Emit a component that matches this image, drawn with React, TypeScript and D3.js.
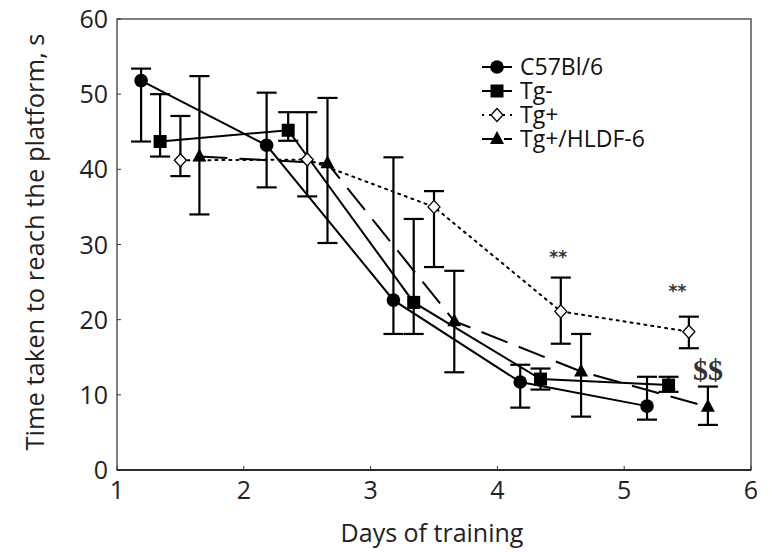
import React from "react";
import * as d3 from "d3";

const seriesNames = ["C57Bl/6", "Tg-", "Tg+", "Tg+/HLDF-6"];
const c57Days = [1.19, 2.18, 3.18, 4.18, 5.18];
const c57Mean = [51.8, 43.2, 22.6, 11.7, 8.5];
const c57Upper = [53.4, 50.2, 41.6, 14.0, 12.4];
const c57Lower = [43.7, 37.6, 18.1, 8.3, 6.7];

const tgMinusDays = [1.34, 2.35, 3.34, 4.34, 5.35];
const tgMinusMean = [43.7, 45.2, 22.3, 12.1, 11.3];
const tgMinusUpper = [50.0, 47.6, 33.4, 13.5, 12.4];
const tgMinusLower = [41.7, 43.8, 18.1, 10.7, 10.4];

const tgPlusDays = [1.5, 2.5, 3.5, 4.5, 5.51];
const tgPlusMean = [41.2, 41.3, 35.0, 21.1, 18.4];
const tgPlusUpper = [47.1, 47.6, 37.1, 25.6, 20.4];
const tgPlusLower = [39.1, 36.4, 27.0, 16.8, 16.2];

const hldfDays = [1.65, 2.66, 3.66, 4.66, 5.66];
const hldfMean = [41.7, 40.8, 19.8, 13.1, 8.4];
const hldfUpper = [52.4, 49.5, 26.5, 18.1, 11.1];
const hldfLower = [34.0, 30.2, 13.0, 7.1, 6.0];

const xTicks = [1, 2, 3, 4, 5, 6];
const yTicks = [0, 10, 20, 30, 40, 50, 60];

const annotText = ["**", "**", "$$"];
const annotDay = [4.48, 5.42, 5.66];
const annotVal = [28.4, 23.8, 13.4];

const W = 772, H = 552;
const m = { left: 117, right: 751, top: 19, bottom: 470 };

const x = d3.scaleLinear().domain([1, 6]).range([m.left, m.right]);
const y = d3.scaleLinear().domain([0, 60]).range([m.bottom, m.top]);

type S = { name: string; days: number[]; mean: number[]; up: number[]; lo: number[]; marker: string; dash: string };
const series: S[] = [
  { name: seriesNames[0], days: c57Days, mean: c57Mean, up: c57Upper, lo: c57Lower, marker: "circle", dash: "" },
  { name: seriesNames[1], days: tgMinusDays, mean: tgMinusMean, up: tgMinusUpper, lo: tgMinusLower, marker: "square", dash: "" },
  { name: seriesNames[2], days: tgPlusDays, mean: tgPlusMean, up: tgPlusUpper, lo: tgPlusLower, marker: "diamond", dash: "2,5" },
  { name: seriesNames[3], days: hldfDays, mean: hldfMean, up: hldfUpper, lo: hldfLower, marker: "triangle", dash: "28,12" },
];

function Marker({ type, cx, cy }: { type: string; cx: number; cy: number }) {
  if (type === "circle") return <circle cx={cx} cy={cy} r={6.8} fill="#000" />;
  if (type === "square") return <rect x={cx - 6.5} y={cy - 6.5} width={13} height={13} fill="#000" />;
  if (type === "diamond")
    return (
      <path d={`M${cx},${cy - 6.5}L${cx + 6},${cy}L${cx},${cy + 6.5}L${cx - 6},${cy}Z`} fill="#fff" stroke="#000" strokeWidth={1.3} />
    );
  return <path d={`M${cx},${cy - 8}L${cx + 7},${cy + 5}L${cx - 7},${cy + 5}Z`} fill="#000" />;
}

const font = "'Open Sans', sans-serif";

export default function App() {
  const line = d3.line<number>();
  const legendY = [67, 91, 115, 139];
  return (
    <svg width={W} height={H} style={{ position: "absolute", left: 0, top: 0, background: "#fff" }}>
      <rect x={0} y={0} width={W} height={H} fill="#fff" />
      {/* frame */}
      <rect x={m.left} y={m.top} width={m.right - m.left} height={m.bottom - m.top} fill="none" stroke="#555" strokeWidth={1.5} />
      <line x1={m.left} x2={m.right} y1={m.bottom} y2={m.bottom} stroke="#111" strokeWidth={1.6} />
      {yTicks.map((t) => (
        <g key={"y" + t}>
          <line x1={m.left} x2={m.left + 4} y1={y(t)} y2={y(t)} stroke="#333" strokeWidth={1} />
          <text x={108} y={y(t)} dy="0.36em" textAnchor="end" fontFamily={font} fontSize={25} fill="#222">
            {t}
          </text>
        </g>
      ))}
      {xTicks.map((t) => (
        <g key={"x" + t}>
          <line x1={x(t)} x2={x(t)} y1={m.bottom} y2={m.bottom - 4} stroke="#333" strokeWidth={1} />
          <text x={x(t)} y={490} dy="0.36em" textAnchor="middle" fontFamily={font} fontSize={25} fill="#222">
            {t}
          </text>
        </g>
      ))}
      <text x={432} y={533} dy="0.36em" textAnchor="middle" fontFamily={font} fontSize={25} fill="#222">
        Days of training
      </text>
      <text
        transform={`translate(35,${242}) rotate(-90)`}
        textAnchor="middle"
        dy="0.36em"
        fontFamily={font}
        fontSize={25.5}
        fill="#222"
      >
        Time taken to reach the platform, s
      </text>

      {/* lines */}
      {series.map((s) => (
        <path
          key={"l" + s.name}
          d={line(s.days.map((d, i) => [x(d), y(s.mean[i])]) as any) || ""}
          fill="none"
          stroke="#000"
          strokeWidth={2}
          strokeDasharray={s.dash || undefined}
          strokeLinecap={s.marker === "diamond" ? "round" : "butt"}
        />
      ))}
      {/* error bars */}
      {series.map((s) =>
        s.days.map((d, i) => (
          <g key={"e" + s.name + i} stroke="#000" strokeWidth={2.2}>
            <line x1={x(d)} x2={x(d)} y1={y(s.up[i])} y2={y(s.lo[i])} />
            <line x1={x(d) - 10} x2={x(d) + 10} y1={y(s.up[i])} y2={y(s.up[i])} />
            <line x1={x(d) - 10} x2={x(d) + 10} y1={y(s.lo[i])} y2={y(s.lo[i])} />
          </g>
        ))
      )}
      {/* markers */}
      {series.map((s) =>
        s.days.map((d, i) => <Marker key={"m" + s.name + i} type={s.marker} cx={x(d)} cy={y(s.mean[i])} />)
      )}
      {/* annotations */}
      {annotText.map((t, i) => (
        <text
          key={"a" + i}
          x={x(annotDay[i])}
          y={y(annotVal[i])}
          dy="0.36em"
          textAnchor="middle"
          fontFamily={t === "$$" ? "'Liberation Serif', serif" : "'DejaVu Sans', sans-serif"}
          fontWeight="bold"
          fontSize={t === "$$" ? 30 : 17}
          fill="#333"
        >
          {t}
        </text>
      ))}
      {/* legend */}
      {series.map((s, i) => (
        <g key={"lg" + s.name}>
          <line
            x1={482}
            x2={512}
            y1={legendY[i]}
            y2={legendY[i]}
            stroke="#000"
            strokeWidth={2}
            strokeDasharray={s.marker === "diamond" ? "2,5" : s.marker === "triangle" ? "16,6" : undefined}
          />
          <Marker type={s.marker} cx={497} cy={legendY[i]} />
          <text x={520} y={legendY[i]} dy="0.34em" fontFamily={font} fontSize={23} fill="#111">
            {s.name}
          </text>
        </g>
      ))}
    </svg>
  );
}
